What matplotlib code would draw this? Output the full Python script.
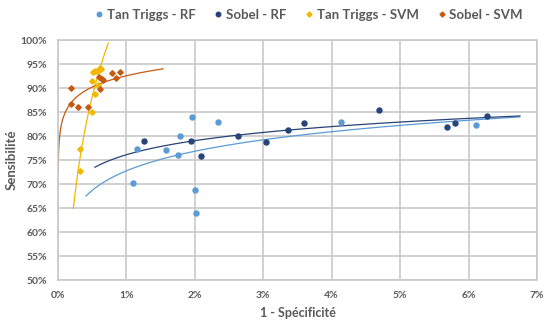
import numpy as np
import matplotlib
matplotlib.use("Agg")
import matplotlib.pyplot as plt
from matplotlib.ticker import PercentFormatter, MultipleLocator

# ---- data (x = 1 - specificity in %, y = sensitivity in %) ----
series_names = ["Tan Triggs - RF", "Sobel - RF", "Tan Triggs - SVM", "Sobel - SVM"]

tt_rf_x = [1.10, 1.155, 1.58, 1.75, 1.78, 1.96, 2.00, 2.02, 2.34, 4.14, 6.11]
tt_rf_y = [70.2, 77.3, 77.1, 76.0, 80.0, 84.0, 68.7, 64.0, 82.9, 82.9, 82.3]

sobel_rf_x = [1.26, 1.94, 2.09, 2.63, 3.04, 3.36, 3.60, 4.69, 5.69, 5.80, 6.27]
sobel_rf_y = [79.0, 79.0, 75.8, 80.0, 78.75, 81.25, 82.7, 85.4, 81.9, 82.7, 84.1]

tt_svm_x = [0.32, 0.32, 0.50, 0.54, 0.58, 0.50, 0.51, 0.54, 0.57, 0.60, 0.62, 0.63]
tt_svm_y = [72.7, 77.3, 85.0, 88.8, 90.6, 91.5, 93.4, 93.5, 93.6, 93.8, 94.1, 93.9]

sobel_svm_x = [0.185, 0.19, 0.29, 0.44, 0.62, 0.60, 0.64, 0.66, 0.79, 0.85, 0.91]
sobel_svm_y = [90.1, 86.7, 86.1, 86.0, 89.7, 92.2, 91.8, 91.7, 93.1, 92.1, 93.3]

# logarithmic trendlines y = a + b*ln(x)
trend_a = [72.75, 76.1, 108.3, 92.55]
trend_b = [5.88, 4.23, 29.0, 3.39]
trend_x0 = [0.41, 0.54, 0.224, 0.003]
trend_x1 = [6.75, 6.75, 0.735, 1.535]

colors = ["#5B9BD5", "#264478", "#F2B800", "#C55A11"]
markers = ["o", "o", "D", "D"]
msizes = [3.6, 3.6, 2.8, 2.8]

xs = [tt_rf_x, sobel_rf_x, tt_svm_x, sobel_svm_x]
ys = [tt_rf_y, sobel_rf_y, tt_svm_y, sobel_svm_y]

plt.rcParams['font.family'] = ['Lato', 'DejaVu Sans']
txt = "#595959"

fig = plt.figure(figsize=(5.45, 3.2), dpi=100)
ax = fig.add_axes([58/545, 1-280/320, (537-58)/545, 240/320])

for i in range(4):
    ax.plot(xs[i], ys[i], linestyle="none", marker=markers[i], ms=msizes[i],
            color=colors[i], mec=colors[i], label=series_names[i], zorder=3)
for i in range(4):
    tx = np.geomspace(trend_x0[i], trend_x1[i], 300)
    ax.plot(tx, trend_a[i] + trend_b[i]*np.log(tx), color=colors[i], lw=0.9, zorder=2)

ax.set_xlim(0, 7)
ax.set_ylim(50, 100)
ax.xaxis.set_major_locator(MultipleLocator(1))
ax.yaxis.set_major_locator(MultipleLocator(5))
ax.xaxis.set_major_formatter(PercentFormatter(100, decimals=0))
ax.yaxis.set_major_formatter(PercentFormatter(100, decimals=0))
ax.grid(True, color="#C9C9C9", lw=1.2, zorder=0)
ax.set_axisbelow(True)
for s in ax.spines.values():
    s.set_color("#C9C9C9")
    s.set_linewidth(1.2)
ax.tick_params(length=0, labelsize=7.5, labelcolor=txt, pad=8)
for lab in ax.get_xticklabels() + ax.get_yticklabels():
    lab.set_fontweight("bold")

ax.set_xlabel("1 - Spécificité", fontsize=9, fontweight="bold", color=txt, labelpad=5)
ax.set_ylabel("Sensibilité", fontsize=9.5, fontweight="bold", color=txt, labelpad=2)

fig.legend(loc="center", bbox_to_anchor=(0.565, 1-15/320), ncol=4, frameon=False,
           prop={"weight": "bold", "size": 9.5}, handletextpad=0.1,
           columnspacing=1.2, markerscale=0.9, labelcolor=txt, handlelength=1.0)

fig.savefig("out.png", dpi=100)
